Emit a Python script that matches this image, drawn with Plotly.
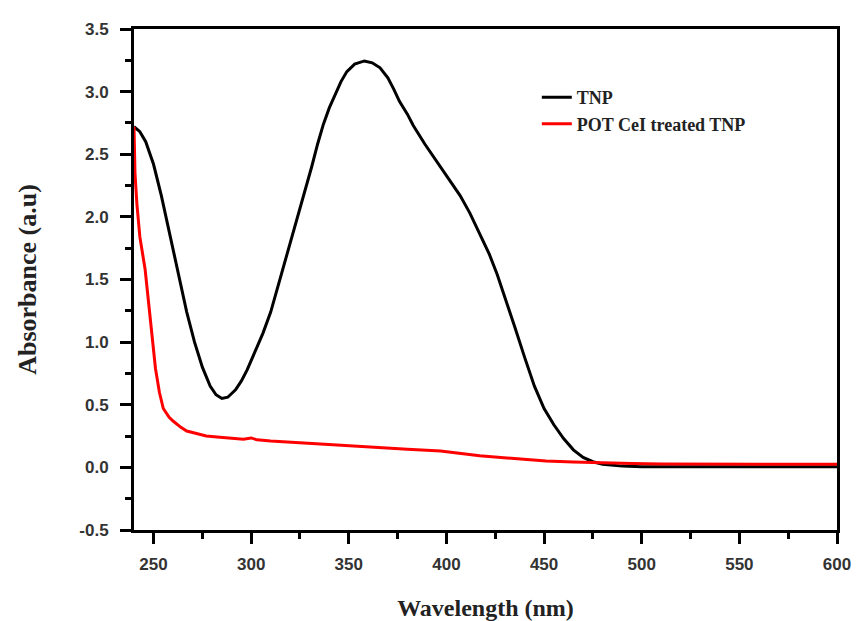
import plotly.graph_objects as go

# TNP (black)
tnp_nm = [240, 243, 246, 250, 254, 258, 262, 267, 271, 275, 279, 282, 285, 288, 292, 295, 298,
          302, 306, 310, 314, 318, 322, 327, 331, 334, 337, 340, 343, 346, 349, 353, 358, 362, 366,
          370, 373, 376, 380, 383, 389, 395, 401, 407, 412, 417, 422, 426, 430, 435, 440, 445, 450,
          455, 460, 465, 470, 475, 480, 490, 500, 520, 550, 580, 600]
tnp_abs = [2.72, 2.68, 2.60, 2.42, 2.17, 1.88, 1.58, 1.24, 1.00, 0.80, 0.65, 0.58, 0.55, 0.56, 0.62, 0.69, 0.78,
           0.92, 1.07, 1.24, 1.46, 1.68, 1.90, 2.17, 2.40, 2.58, 2.74, 2.87, 2.98, 3.08, 3.16, 3.22, 3.245, 3.23, 3.19,
           3.11, 3.02, 2.92, 2.82, 2.73, 2.58, 2.44, 2.31, 2.17, 2.03, 1.87, 1.70, 1.54, 1.36, 1.12, 0.88, 0.65, 0.47,
           0.34, 0.23, 0.14, 0.08, 0.045, 0.025, 0.01, 0.005, 0.005, 0.005, 0.005, 0.005]

# POT CeI treated TNP (red)
pot_nm = [240, 240.5, 241.5, 243, 245.7, 248.3, 251, 253, 255, 258, 260, 264, 267, 272, 277, 284, 290,
          296, 300, 303, 310, 320, 335, 350, 365, 380, 397, 417, 438, 451, 465, 480, 495, 510, 550, 600]
pot_abs = [2.72, 2.35, 2.10, 1.84, 1.58, 1.18, 0.79, 0.60, 0.47, 0.40, 0.37, 0.32, 0.29, 0.27, 0.25, 0.24, 0.23,
           0.225, 0.235, 0.22, 0.21, 0.20, 0.185, 0.17, 0.16, 0.145, 0.13, 0.092, 0.066, 0.05, 0.042, 0.035,
           0.03, 0.027, 0.025, 0.025]

series_names = ["TNP", "POT CeI treated TNP"]
x_ticks = [250, 300, 350, 400, 450, 500, 550, 600]
y_ticks = [-0.5, 0.0, 0.5, 1.0, 1.5, 2.0, 2.5, 3.0, 3.5]
y_tick_labels = ["-0.5", "0.0", "0.5", "1.0", "1.5", "2.0", "2.5", "3.0", "3.5"]

fig = go.Figure()
fig.add_trace(go.Scatter(x=tnp_nm, y=tnp_abs, mode="lines", name=series_names[0],
                         line=dict(color="black", width=3)))
fig.add_trace(go.Scatter(x=pot_nm, y=pot_abs, mode="lines", name=series_names[1],
                         line=dict(color="#ff0000", width=3)))

axis_common = dict(
    showline=True, linecolor="black", linewidth=3, mirror=True,
    ticks="outside", ticklen=11, tickwidth=3, tickcolor="black",
    showgrid=False, zeroline=False,
    tickfont=dict(family="Liberation Sans", size=17, color="#333333", weight="bold"),
)

fig.update_xaxes(
    range=[240, 600], tickvals=x_ticks, ticklabelstandoff=6,
    minor=dict(ticks="outside", ticklen=6, tickwidth=3, tickcolor="black", dtick=25, tick0=250),
    title=dict(text="Wavelength (nm)", standoff=26,
               font=dict(family="Liberation Serif", size=24, color="#222222", weight="bold")),
    **axis_common,
)
fig.update_yaxes(
    range=[-0.5, 3.5], tickvals=y_ticks, ticktext=y_tick_labels, ticklabelstandoff=8,
    minor=dict(ticks="outside", ticklen=6, tickwidth=3, tickcolor="black", dtick=0.25, tick0=0),
    title=dict(text="Absorbance (a.u)", standoff=36,
               font=dict(family="Liberation Serif", size=26, color="#222222", weight="bold")),
    **axis_common,
)

fig.update_layout(
    width=864, height=621,
    margin=dict(l=126, r=35, t=15, b=99),
    plot_bgcolor="white", paper_bgcolor="white",
    showlegend=True,
    legend=dict(x=0.573, y=0.9, xanchor="left", yanchor="top",
                bgcolor="rgba(0,0,0,0)",
                font=dict(family="Liberation Serif", size=18, color="#222222", weight="bold")),
)

fig.write_html("out.html")
